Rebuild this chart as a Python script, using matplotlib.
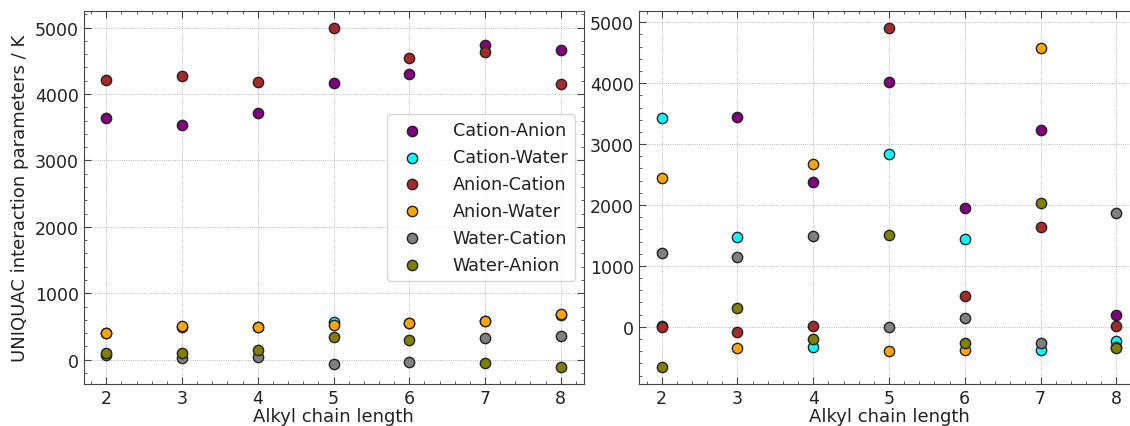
import matplotlib
matplotlib.use("Agg")
import matplotlib.pyplot as plt
from matplotlib.ticker import AutoMinorLocator

chain = [2, 3, 4, 5, 6, 7, 8]
pairs = ['Cation-Anion', 'Cation-Water', 'Anion-Cation', 'Anion-Water', 'Water-Cation', 'Water-Anion']
colors = ['purple', 'cyan', 'brown', 'orange', 'gray', 'olive']

# left panel
ca_left = [3632, 3541, 3717, 4173, 4298, 4744, 4664]
cw_left = [395, 495, 485, 571, 545, 576, 678]
ac_left = [4208, 4278, 4183, 4995, 4549, 4639, 4153]
aw_left = [399, 500, 490, 520, 551, 581, 682]
wc_left = [76, 25, 35, -66, -30, 328, 364]
wa_left = [106, 106, 152, 338, 298, -51, -111]

# right panel
ca_right = [5, 3438, 2381, 4025, 1950, 3230, 193]
cw_right = [3427, 1482, -336, 2841, 1443, -386, -231]
ac_right = [0, -83, 17, 4907, 507, 1636, 6]
aw_right = [2447, -347, 2666, -397, -375, 4578, -330]
wc_right = [1218, 1146, 1499, -11, 143, -270, 1873]
wa_right = [-661, 303, -198, 1510, -270, 2028, -347]

left = [ca_left, cw_left, ac_left, aw_left, wc_left, wa_left]
right = [ca_right, cw_right, ac_right, aw_right, wc_right, wa_right]

fig = plt.figure(figsize=(11.3, 4.27), dpi=100)
ax1 = fig.add_axes([83.5 / 1130, 42 / 427, 500 / 1130, 373 / 427])
ax2 = fig.add_axes([639 / 1130, 42 / 427, 500 / 1130, 373 / 427])

for ax, data in [(ax1, left), (ax2, right)]:
    for vals, lab, c in zip(data, pairs, colors):
        ax.scatter(chain, vals, s=55, color=c, edgecolor='#222222', linewidth=1, label=lab, zorder=3)
    ax.set_xlim(1.7, 8.3)
    ax.set_xticks(chain)
    ax.xaxis.set_minor_locator(AutoMinorLocator(5))
    ax.yaxis.set_minor_locator(AutoMinorLocator(5))
    ax.tick_params(which='both', direction='in', top=True, right=True, colors='#444444', labelcolor='#222222', labelsize=12.5)
    ax.tick_params(which='major', length=5)
    ax.tick_params(which='minor', length=2.5)
    ax.grid(True, which='major', linestyle=':', color='#a0a0a0', linewidth=0.6)
    for sp in ax.spines.values():
        sp.set_color('#444444')
    ax.set_xlabel('Alkyl chain length', fontsize=13, labelpad=0, color='#222222')

ax1.set_ylabel('UNIQUAC interaction parameters / K', fontsize=13, color='#222222')
ax1.legend(loc='center right', prop={'size': 12.7}, scatterpoints=1, handletextpad=1.3, labelcolor='#222222')

fig.savefig('out.png', dpi=100)
